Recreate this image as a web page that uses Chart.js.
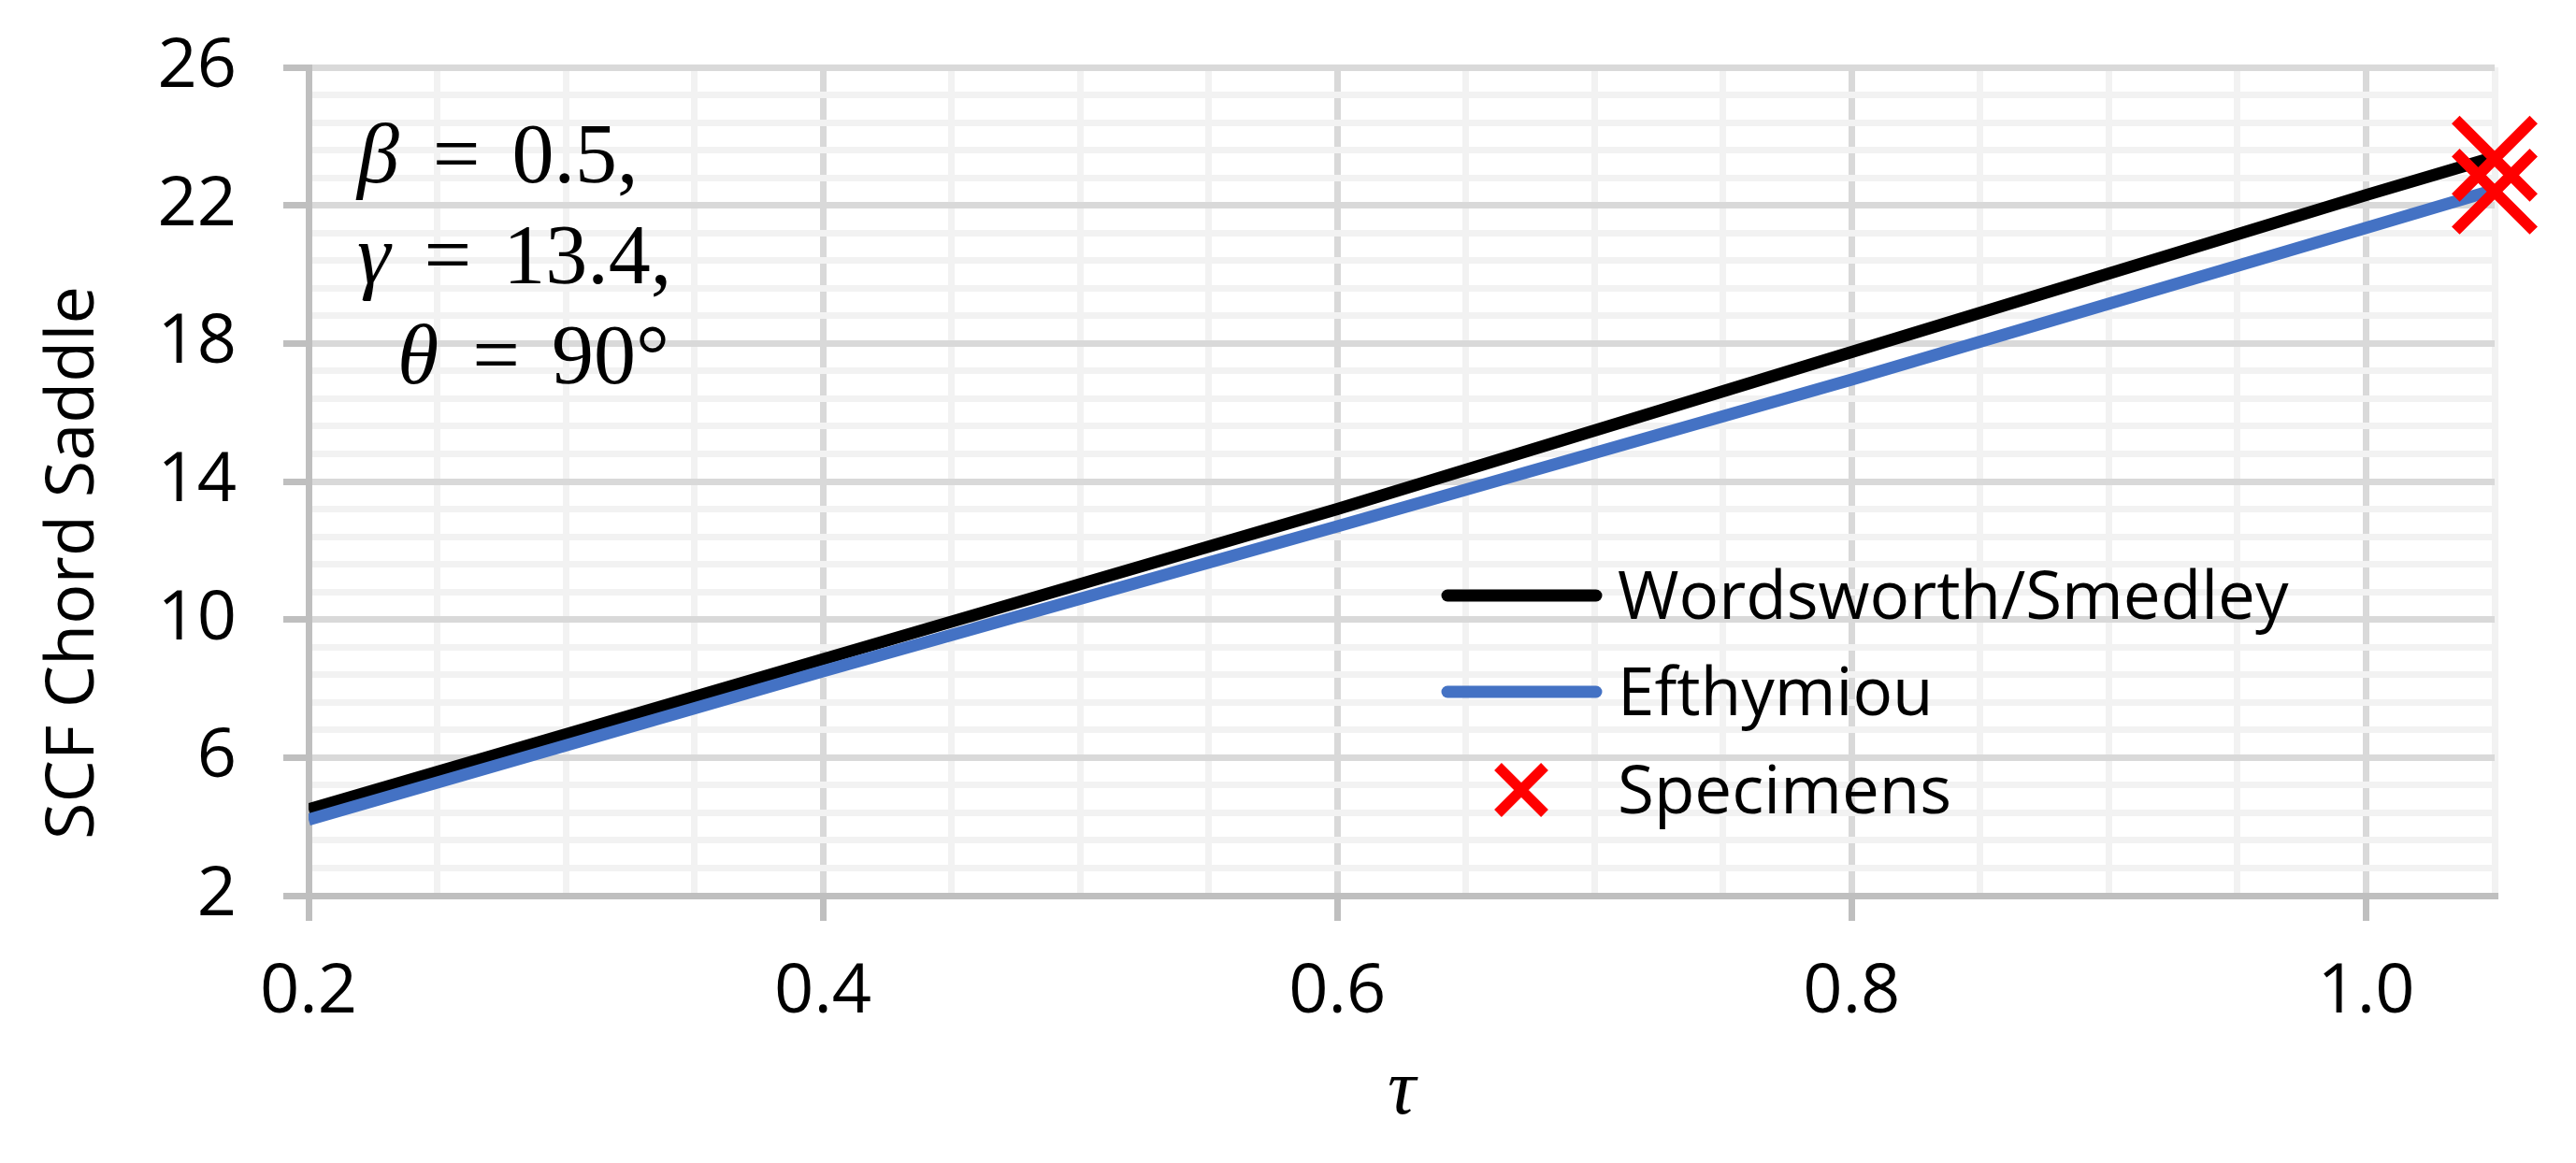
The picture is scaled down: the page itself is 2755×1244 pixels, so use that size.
<!DOCTYPE html>
<html>
<head>
<meta charset="utf-8">
<script src="https://cdn.jsdelivr.net/npm/chart.js@4.4.1/dist/chart.umd.min.js"></script>
<style>
  html, body { margin: 0; padding: 0; background: #fff; }
  #wrap { width: 2755px; height: 1244px; position: relative; }
</style>
</head>
<body>
<div id="wrap"><canvas id="chart"></canvas></div>
<script>
// values
let tauValues = [0.2, 0.4, 0.6, 0.8, 1.0, 1.05];
let wordsworthSmedley = [4.5, 8.85, 13.2, 17.75, 22.3, 23.4];
let efthymiou = [4.2, 8.5, 12.7, 16.95, 21.35, 22.45];
let specimenTau = [1.05, 1.05];
let specimenScf = [23.35, 22.4];
let seriesNames = ['Wordsworth/Smedley', 'Efthymiou', 'Specimens'];
let xTickLabels = ['0.2', '0.4', '0.6', '0.8', '1.0'];
let yTickLabels = ['2', '6', '10', '14', '18', '22', '26'];
let paramLines = [['β', '0.5,'], ['γ', '13.4,'], ['θ', '90°']];

const SANS = "'Open Sans', sans-serif";
const SERIF = "'Liberation Serif', 'DejaVu Serif', serif";

function isMajor(v, start, step) {
    let r = (v - start) / step;
    return Math.abs(r - Math.round(r)) < 1e-6;
}

function gridColor(start, step) {
    return c => (!c.tick || isMajor(c.tick.value, start, step)) ? '#d9d9d9' : '#f2f2f2';
}

function tickColor(start, step) {
    return c => (c.tick && isMajor(c.tick.value, start, step)) ? '#bfbfbf' : 'rgba(0,0,0,0)';
}

function toPoints(xs, ys) {
    return xs.map((x, i) => ({ x: x, y: ys[i] }));
}

// y title, parameter box and legend drawn inside the plot
let extraText = {
    id: 'extraText',
    afterDraw(chart) {
        let ctx = chart.ctx;
        ctx.save();

        // y axis title
        ctx.fillStyle = '#000';
        ctx.font = '72px ' + SANS;
        ctx.textAlign = 'center';
        ctx.textBaseline = 'alphabetic';
        ctx.translate(100, 602);
        ctx.rotate(-Math.PI / 2);
        ctx.fillText('SCF Chord Saddle', 0, 0);
        ctx.setTransform(1, 0, 0, 1, 0, 0);

        // parameter text
        let lefts = [382, 382, 425];
        let bases = [195, 303, 410];
        ctx.textAlign = 'left';
        paramLines.forEach((p, i) => {
            let x = lefts[i];
            ctx.font = 'italic 90px ' + SERIF;
            ctx.fillText(p[0], x, bases[i]);
            x += ctx.measureText(p[0]).width + 36;
            ctx.font = '90px ' + SERIF;
            ctx.fillText('=', x, bases[i]);
            x += ctx.measureText('=').width + 34;
            ctx.fillText(p[1], x, bases[i]);
        });

        // legend
        let ds = chart.data.datasets;
        let rows = [637, 740, 845];
        ctx.font = '71px ' + SANS;
        ds.forEach((d, i) => {
            let y = rows[i];
            if (d.showLine) {
                ctx.strokeStyle = d.borderColor;
                ctx.lineWidth = 13;
                ctx.lineCap = 'round';
                ctx.beginPath();
                ctx.moveTo(1548, y);
                ctx.lineTo(1707, y);
                ctx.stroke();
            } else {
                let o = 25;
                ctx.strokeStyle = d.pointBorderColor;
                ctx.lineWidth = 11;
                ctx.lineCap = 'butt';
                ctx.beginPath();
                ctx.moveTo(1627 - o, y - o);
                ctx.lineTo(1627 + o, y + o);
                ctx.moveTo(1627 + o, y - o);
                ctx.lineTo(1627 - o, y + o);
                ctx.stroke();
            }
            ctx.fillStyle = '#000';
            ctx.fillText(seriesNames[i], 1730, y + 25);
        });
        ctx.restore();
    }
};

let ctx = document.getElementById('chart');
let myChart = new Chart(ctx, {
    type: 'scatter',
    data: {
        datasets: [
            {
                label: seriesNames[0],
                data: toPoints(tauValues, wordsworthSmedley),
                showLine: true,
                borderColor: '#000000',
                borderWidth: 13,
                pointRadius: 0,
                order: 2
            },
            {
                label: seriesNames[1],
                data: toPoints(tauValues, efthymiou),
                showLine: true,
                borderColor: '#4472c4',
                borderWidth: 13,
                pointRadius: 0,
                order: 1
            },
            {
                label: seriesNames[2],
                data: toPoints(specimenTau, specimenScf),
                showLine: false,
                pointStyle: 'crossRot',
                pointRadius: 59,
                pointBorderWidth: 12,
                pointBorderColor: '#ff0000',
                pointBackgroundColor: '#ff0000',
                clip: false,
                order: 0
            }
        ]
    },
    options: {
        responsive: true,
        maintainAspectRatio: false,
        animation: false,
        devicePixelRatio: 1,
        layout: { padding: { top: 72, right: 87, left: 0, bottom: 0 } },
        plugins: {
            legend: { display: false },
            tooltip: { enabled: false }
        },
        scales: {
            x: {
                type: 'linear',
                min: 0.2,
                max: 1.05,
                afterFit: s => { s.height = 286; },
                ticks: {
                    stepSize: 0.05,
                    maxTicksLimit: 100,
                    autoSkip: false,
                    maxRotation: 0,
                    padding: 33,
                    color: '#000',
                    font: { family: SANS, size: 74 },
                    callback: v => isMajor(v, 0.2, 0.2) ? xTickLabels[Math.round((v - 0.2) / 0.2)] : ''
                },
                grid: {
                    color: gridColor(0.2, 0.2),
                    lineWidth: 7,
                    tickLength: 27,
                    tickWidth: 7,
                    tickColor: tickColor(0.2, 0.2)
                },
                border: { color: '#bfbfbf', width: 7 },
                title: {
                    display: true,
                    text: 'τ',
                    color: '#000',
                    font: { family: SERIF, size: 84, style: 'italic' },
                    padding: { top: 0, bottom: 25 }
                }
            },
            y: {
                type: 'linear',
                min: 2,
                max: 26,
                afterFit: s => {
                    s.width = 330;
                    s.paddingTop = 0;
                    s.paddingBottom = 0;
                },
                ticks: {
                    stepSize: 0.8,
                    maxTicksLimit: 100,
                    autoSkip: false,
                    padding: 50,
                    color: '#000',
                    font: { family: SANS, size: 74 },
                    callback: v => isMajor(v, 2, 4) ? yTickLabels[Math.round((v - 2) / 4)] : ''
                },
                grid: {
                    color: gridColor(2, 4),
                    lineWidth: 7,
                    tickLength: 27,
                    tickWidth: 7,
                    tickColor: tickColor(2, 4)
                },
                border: { color: '#bfbfbf', width: 7 }
            }
        }
    },
    plugins: [extraText]
});
</script>
</body>
</html>
